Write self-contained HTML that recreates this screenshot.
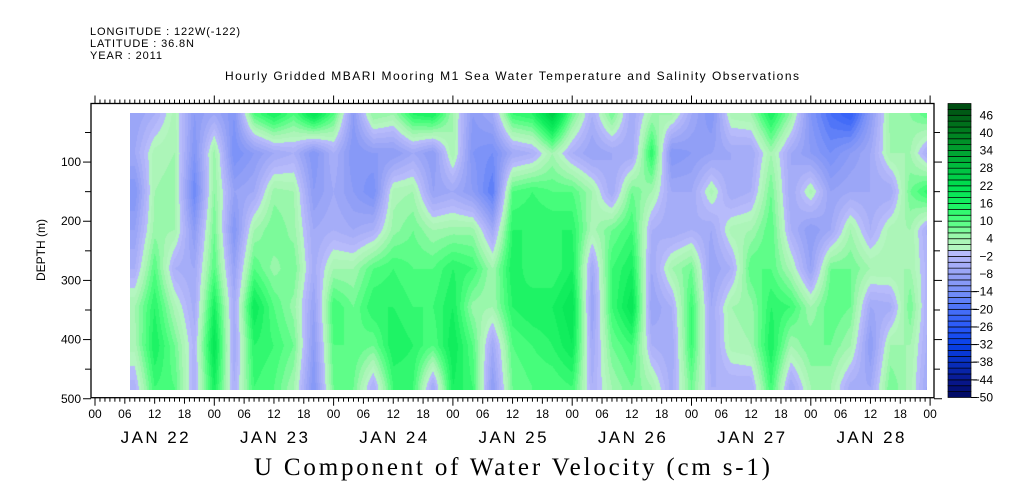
<!DOCTYPE html>
<html><head><meta charset="utf-8">
<style>
html,body{margin:0;padding:0;background:#fff;}
#wrap{position:relative;width:1009px;height:504px;overflow:hidden;}
svg{position:absolute;left:0;top:0;}
canvas{position:absolute;}
text{font-family:"Liberation Sans",sans-serif;fill:#000;}
</style></head>
<body>
<div id="wrap">
<canvas id="hm"></canvas>
<svg id="svg" width="1009" height="504">
<text x="90" y="35" font-size="11" textLength="150">LONGITUDE : 122W(-122)</text>
<text x="90" y="47" font-size="11" textLength="104">LATITUDE : 36.8N</text>
<text x="90" y="59" font-size="11" textLength="72">YEAR : 2011</text>
<text x="512" y="80" font-size="12" text-anchor="middle" textLength="574">Hourly Gridded MBARI Mooring M1 Sea Water Temperature and Salinity Observations</text>
<text x="512" y="475" font-size="25" text-anchor="middle" textLength="516" style="font-family:'Liberation Serif',serif">U Component of Water Velocity (cm s-1)</text>
<text transform="translate(45,250) rotate(-90)" font-size="12" text-anchor="middle">DEPTH (m)</text>
<g id="axes"></g>
<g id="cbar"></g>
</svg>
</div>
<script>
// ---- data ----
const hours = [8,12,16,20,24,28,32,36,40,44,48,52,56,60,64,68,72,76,80,84,88,92,96,100,104,108,112,116,120,124,128,132,136,140,144,148,152,156,160,164,168];
const depths = [20,85,150,215,280,345,410,480];
// each entry: one time column, values at depths (cm/s)
const uValues = [
[-8,-6,-12,-8,-4,4,3,-3],
[-4,3,4,5,10,14,16,12],
[3,4,5,4,-4,3,8,10],
[-10,-12,-16,-10,-6,-5,-3,-4],
[-6,5,6,8,10,16,20,16],
[-12,-14,-8,-12,-8,-5,-6,-4],
[10,-10,-6,4,10,18,14,12],
[16,-6,5,8,5,10,12,10],
[10,-4,4,5,8,5,8,4],
[20,-12,-10,-6,-5,-8,-10,-12],
[10,-4,-6,-4,4,12,10,8],
[-10,-12,-10,-6,4,8,10,8],
[6,-10,-14,-4,10,14,8,-4],
[4,-10,3,5,12,14,16,12],
[14,-6,4,8,10,12,14,12],
[16,-10,-8,4,10,12,10,-6],
[4,4,-6,5,14,16,18,16],
[-10,-12,-10,5,12,5,10,12],
[-6,-14,-18,-6,4,4,-6,-10],
[12,-6,10,14,16,14,10,8],
[14,-4,12,14,12,16,12,10],
[26,4,10,14,12,16,14,10],
[8,-4,10,14,16,20,18,12],
[-4,-8,4,3,-6,-8,-6,-4],
[8,-6,-6,8,12,12,8,4],
[-6,-6,8,12,16,20,12,8],
[4,14,4,-4,-6,-8,-4,4],
[4,-12,-6,-6,4,-4,-6,-5],
[-6,-10,-6,-4,8,12,12,8],
[-12,-8,3,-6,-8,-6,-6,-4],
[3,-6,-6,3,-4,4,3,-4],
[4,-6,-4,4,10,5,4,-4],
[16,4,8,10,10,14,16,12],
[5,-6,-6,-4,3,12,4,-6],
[-12,-10,3,-10,-8,4,8,4],
[-20,-14,-8,-6,8,10,8,4],
[-24,-10,-6,4,8,8,4,-5],
[-10,-6,-6,-4,4,-6,-10,-6],
[5,4,-6,3,4,-5,4,8],
[6,4,8,4,4,8,4,3],
[10,-6,14,-6,-4,-6,-6,-8]
];
const colorTicks = [-50,-44,-38,-32,-26,-20,-14,-8,-2,4,10,16,22,28,34,40,46];
const xDayLabels = ["JAN 22","JAN 23","JAN 24","JAN 25","JAN 26","JAN 27","JAN 28"];
const xHourLabels = ["00","06","12","18"];
const yTicks = [100,200,300,400,500];

// ---- scales ----
const X0=95, PXH=119.3/24;
const sx = h => X0 + h*PXH;
const Y0=102.9, PYD=0.5917;
const sy = d => Y0 + d*PYD;
const boxL=91, boxR=934, boxT=103.5, boxB=397.7;
const NS="http://www.w3.org/2000/svg";
function mk(tag, attrs, parent){const e=document.createElementNS(NS,tag);for(const k in attrs)e.setAttribute(k,attrs[k]);parent.appendChild(e);return e;}

// ---- colors ----
const stops=[[-50,[0,8,96]],[-44,[8,24,144]],[-38,[8,48,192]],[-32,[8,64,232]],[-26,[40,88,248]],[-20,[72,112,248]],[-14,[120,144,248]],[-8,[150,162,246]],[-2,[180,184,250]],[0,[186,190,252]],[0.01,[184,246,196]],[4,[168,245,180]],[10,[80,255,128]],[16,[20,240,96]],[22,[0,224,80]],[28,[0,192,64]],[34,[0,160,48]],[40,[0,128,32]],[50,[0,72,16]]];
function colAt(v){for(let i=1;i<stops.length;i++){if(v<=stops[i][0]){const a=stops[i-1],b=stops[i];const t=(v-a[0])/(b[0]-a[0]);return a[1].map((c,j)=>Math.round(c+(b[1][j]-c)*t));}}return stops[stops.length-1][1];}
const bands=[];for(let i=0;i<50;i++){bands.push(colAt(-50+i*2+1));}
function bandColor(v){let i=Math.floor((v+50)/2);i=Math.max(0,Math.min(49,i));return bands[i];}

// ---- heatmap ----
(function(){
 const h0=7,h1=167.3,d0=17,d1=485;
 const L=Math.round(sx(h0)),R=Math.round(sx(h1)),T=Math.round(sy(d0)),B=Math.round(sy(d1));
 const W=R-L,H=B-T;
 const cv=document.getElementById('hm');cv.width=W;cv.height=H;cv.style.left=L+'px';cv.style.top=T+'px';
 const ctx=cv.getContext('2d');const img=ctx.createImageData(W,H);
 function locate(arr,v){if(v<=arr[0])return[0,0,0];if(v>=arr[arr.length-1])return[arr.length-1,arr.length-1,0];for(let i=0;i<arr.length-1;i++){if(v<=arr[i+1])return[i,i+1,(v-arr[i])/(arr[i+1]-arr[i])];}}
 for(let py=0;py<H;py++){
  const d=(T+py+0.5-Y0)/PYD;const [j0,j1,tj]=locate(depths,d);
  for(let px=0;px<W;px++){
   const h=(L+px+0.5-X0)/PXH;const [i0,i1,ti]=locate(hours,h);
   const a=uValues[i0][j0]*(1-tj)+uValues[i0][j1]*tj;
   const b=uValues[i1][j0]*(1-tj)+uValues[i1][j1]*tj;
   const c=bandColor(a*(1-ti)+b*ti);
   const k=(py*W+px)*4;img.data[k]=c[0];img.data[k+1]=c[1];img.data[k+2]=c[2];img.data[k+3]=255;
  }
 }
 ctx.putImageData(img,0,0);
})();

// ---- axes ----
(function(){
 const g=document.getElementById('axes');
 const box=mk('rect',{x:boxL,y:boxT,width:boxR-boxL,height:boxB-boxT,fill:'none',stroke:'#000','stroke-width':1.3},g);
 
 for(let h=0;h<=168;h++){
  const x=sx(h);const major=h%24===0, mid=h%6===0;
  mk('line',{x1:x,x2:x,y1:boxT,y2:boxT-(major?8:4),stroke:'#000','stroke-width':1},g);
  mk('line',{x1:x,x2:x,y1:boxB,y2:boxB+(major?8:(mid?6:4)),stroke:'#000','stroke-width':1},g);
  if(mid){const t=mk('text',{x:x,y:418,'font-size':12,'text-anchor':'middle'},g);t.textContent=xHourLabels[(h/6)%4];
   }
 }
 xDayLabels.forEach((lab,i)=>{const t=mk('text',{x:sx(i*24+12),y:443,'font-size':17,'text-anchor':'middle',textLength:68},g);t.textContent=lab;
  });
 for(let d=50;d<=500;d+=50){const y=sy(d);const maj=d%100===0;
  mk('line',{x1:boxL,x2:boxL-(maj?8:6),y1:y,y2:y,stroke:'#000'},g);
  mk('line',{x1:boxR,x2:boxR+(maj?8:6),y1:y,y2:y,stroke:'#000'},g);}
 yTicks.forEach(d=>{const t=mk('text',{x:81,y:sy(d)+4,'font-size':12,'text-anchor':'end'},g);t.textContent=d;
  });
})();

// ---- colorbar ----
(function(){
 const g=document.getElementById('cbar');
 const cx=948,cw=23,cT=103.5,cB=397.5,bh=(cB-cT)/50;
 for(let i=0;i<50;i++){const c=bands[i];const r=mk('rect',{x:cx,y:cB-(i+1)*bh,width:cw,height:bh,fill:`rgb(${c[0]},${c[1]},${c[2]})`,stroke:'#000','stroke-width':0.7},g);
  }
 colorTicks.forEach(v=>{const y=cB-(v+50)/100*(cB-cT);
  if(v<-10){mk('line',{x1:cx+cw,x2:cx+cw+6,y1:y,y2:y,stroke:'#000'},g);}
  const t=mk('text',{x:993,y:y+4,'font-size':12,'text-anchor':'end'},g);t.textContent=v<0?'\u2212'+(-v):String(v);
  });
})();
</script>
</body></html>
